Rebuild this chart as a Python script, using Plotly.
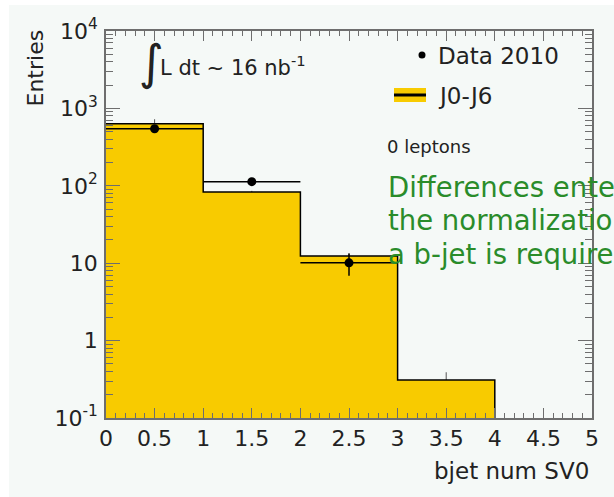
import plotly.graph_objects as go

# ---- histogram content -------------------------------------------------
bin_edges = [0, 1, 2, 3, 4]
bin_centers = [0.5, 1.5, 2.5, 3.5]
mc_j0_j6 = [634, 83, 12.4, 0.31]          # J0-J6 simulation
mc_err = [90, 3, 1.0, 0.08]               # simulation stat. uncertainty (shown upward)
mc_err_shown_down = [0, 0, 0, 0]
data_centers = [0.5, 1.5, 2.5]
data_2010 = [546, 113, 10.1]              # Data 2010
data_err = [23, 10.6, 3.2]
half_width = [0.5, 0.5, 0.5]

y_floor = 0.1
y_ticks = [0.1, 1, 10, 100, 1000, 10000]
y_ticktext = ["10<sup>-1</sup>", "1", "10", "10<sup>2</sup>", "10<sup>3</sup>", "10<sup>4</sup>"]

note_lines = ["Differences enter", "the normalization", "a b-jet is required"]

# ---- page geometry (pixels) -------------------------------------------
FIG_W, FIG_H = 614, 497
L, R, T, B = 106, 592, 31, 418
PW, PH = R - L, B - T


def px(x):
    return (x - L) / PW


def py(y):
    return (B - y) / PH


FONT = "DejaVu Sans"
TXT = "#222222"
AXC = "#6e6e6e"
YELLOW = "#f8cb00"
BG = "#f5f9f7"

fig = go.Figure()

# filled simulation histogram
fig.add_trace(go.Bar(
    x=bin_centers, y=mc_j0_j6, width=[1] * len(bin_centers),
    marker=dict(color=YELLOW, line=dict(width=0)),
    showlegend=False))

# simulation uncertainty, visible above the filled area only
fig.add_trace(go.Scatter(
    x=bin_centers, y=mc_j0_j6, mode="markers",
    marker=dict(size=1, color="rgba(0,0,0,0)"),
    error_y=dict(type="data", symmetric=False, array=mc_err, arrayminus=mc_err_shown_down,
                 width=0, thickness=1, color="#555555"),
    showlegend=False, hoverinfo="skip"))

# histogram outline as a step
step_x = bin_edges + [bin_edges[-1]]
step_y = mc_j0_j6 + [mc_j0_j6[-1], y_floor / 10]
fig.add_trace(go.Scatter(
    x=step_x, y=step_y, mode="lines", line=dict(color="black", width=1.5, shape="hv"),
    showlegend=False, hoverinfo="skip"))

# data points
fig.add_trace(go.Scatter(
    x=data_centers, y=data_2010, mode="markers",
    marker=dict(color="black", size=9, symbol="circle"),
    error_y=dict(type="data", array=data_err, width=0, thickness=1.5, color="black"),
    error_x=dict(type="data", array=half_width, width=0, thickness=1.5, color="black"),
    showlegend=False))

fig.update_layout(
    width=FIG_W, height=FIG_H,
    margin=dict(l=L, r=FIG_W - R, t=T, b=FIG_H - B),
    paper_bgcolor="white",
    plot_bgcolor="rgba(0,0,0,0)",
    bargap=0,
    font=dict(family=FONT, color=TXT, size=22),
    xaxis=dict(
        range=[0, 5], tick0=0, dtick=0.5, ticks="inside", ticklen=10, tickwidth=1,
        tickcolor=AXC, showline=True, linecolor=AXC, linewidth=1.5, mirror="ticks",
        showgrid=False, zeroline=False, ticklabelstandoff=0,
        tickfont=dict(family=FONT, size=22, color=TXT),
        minor=dict(dtick=0.1, ticks="inside", ticklen=5, tickcolor=AXC, showgrid=False),
    ),
    yaxis=dict(
        type="log", range=[-1, 4], tickvals=y_ticks, ticktext=y_ticktext,
        ticks="inside", ticklen=14, tickwidth=1, tickcolor=AXC,
        showline=True, linecolor=AXC, linewidth=1.5, mirror="ticks",
        showgrid=False, zeroline=False, ticklabelstandoff=2,
        tickfont=dict(family=FONT, size=22, color=TXT),
        minor=dict(tickvals=[k * 10 ** e for e in range(-1, 4) for k in range(2, 10)],
                   ticks="inside", ticklen=7, tickcolor=AXC, showgrid=False),
    ),
)

# light page background with thin white margins at the top and left
fig.add_shape(type="rect", xref="paper", yref="paper",
              x0=px(9), x1=px(FIG_W + 5), y0=py(FIG_H + 5), y1=py(5),
              fillcolor=BG, line=dict(width=0), layer="below")

ann = []
# axis titles
ann.append(dict(text="Entries", x=px(35), y=py(28), xanchor="center", yanchor="top",
                textangle=-90, font=dict(size=22)))
ann.append(dict(text="bjet num SV0", x=px(591), y=py(471), xanchor="right", yanchor="middle",
                font=dict(size=23)))
# luminosity label
ann.append(dict(text="∫", x=px(151), y=py(62), xanchor="center", yanchor="middle",
                font=dict(size=48)))
ann.append(dict(text="L dt ~ 16 nb<sup>-1</sup>", x=px(158), y=py(66), xanchor="left",
                yanchor="middle", font=dict(size=21)))
# legend
ann.append(dict(text="Data 2010", x=px(436), y=py(56), xanchor="left", yanchor="middle",
                font=dict(size=23)))
ann.append(dict(text="J0-J6", x=px(436), y=py(96), xanchor="left", yanchor="middle",
                font=dict(size=23)))
ann.append(dict(text="0 leptons", x=px(385), y=py(146), xanchor="left", yanchor="middle",
                font=dict(size=18)))
# note, one line at a time
for line, yc in zip(note_lines, [187, 220, 254]):
    ann.append(dict(text=line, x=px(386), y=py(yc), xanchor="left", yanchor="middle",
                    font=dict(size=27.5, color="#2a8c2a")))
for a in ann:
    a.update(xref="paper", yref="paper", showarrow=False)
fig.update_layout(annotations=ann)

# legend symbols
fig.add_shape(type="circle", xref="paper", yref="paper",
              x0=px(418.5), x1=px(425.5), y0=py(58.5), y1=py(51.5),
              fillcolor="black", line=dict(width=0))
fig.add_shape(type="rect", xref="paper", yref="paper",
              x0=px(394), x1=px(426), y0=py(102), y1=py(88),
              fillcolor=YELLOW, line=dict(width=0))
fig.add_shape(type="line", xref="paper", yref="paper",
              x0=px(394), x1=px(426), y0=py(95), y1=py(95),
              line=dict(color="black", width=3))

fig.write_html("out.html")
